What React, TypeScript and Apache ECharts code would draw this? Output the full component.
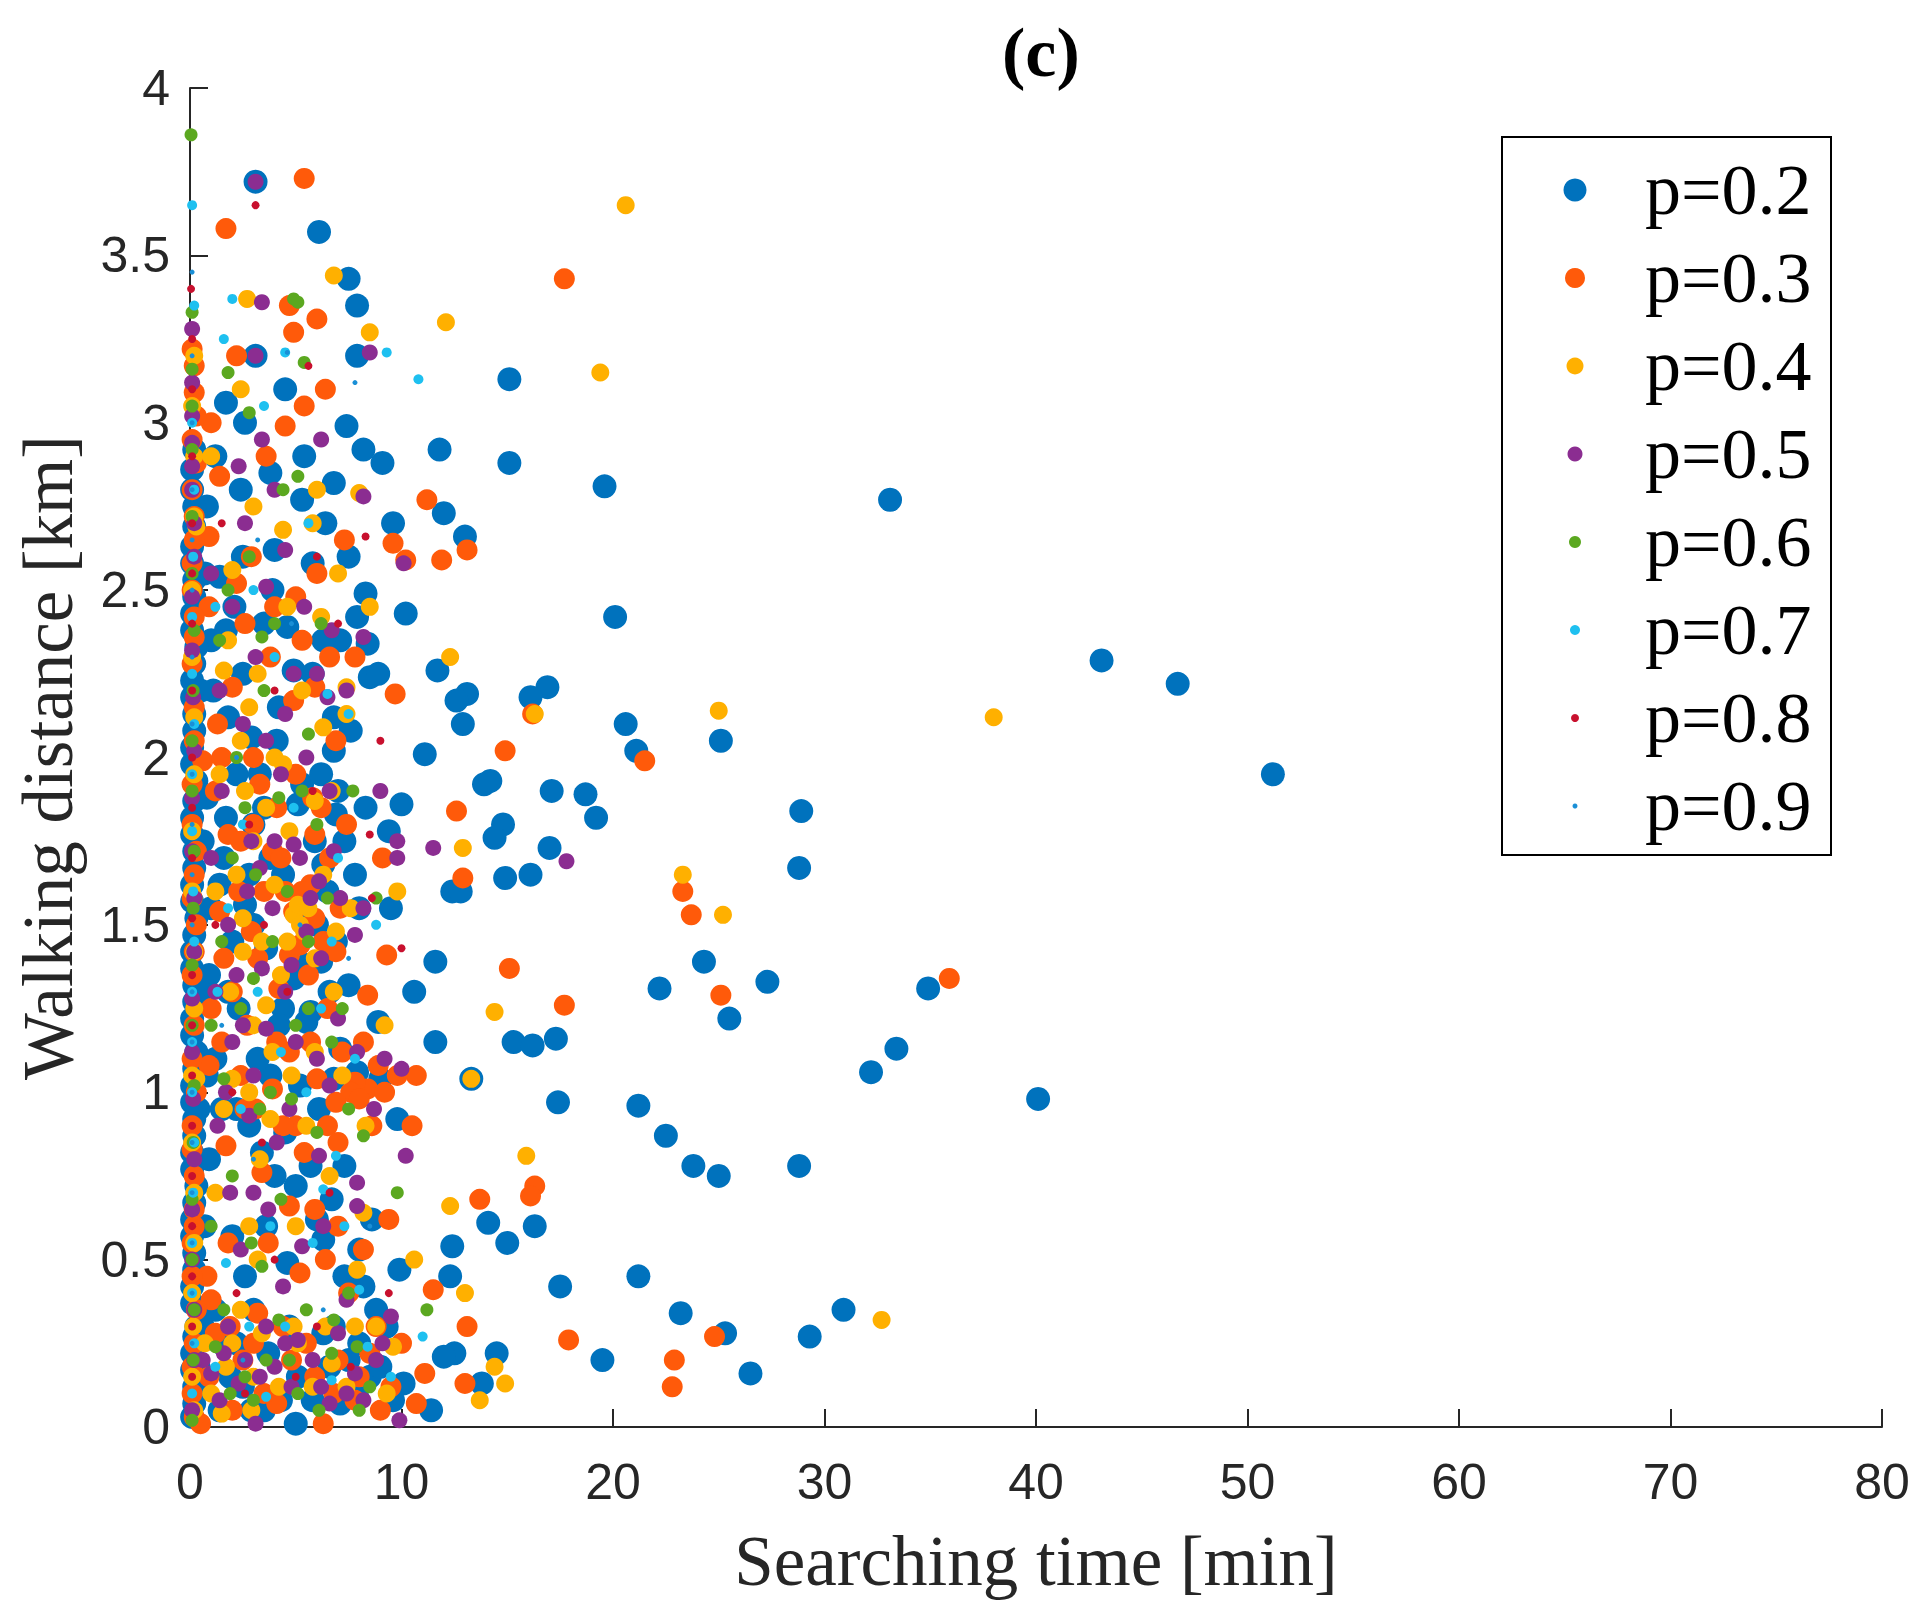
import React, { useEffect, useRef } from "react";
import * as echarts from "echarts";

const seriesNames = ["p=0.2", "p=0.3", "p=0.4", "p=0.5", "p=0.6", "p=0.7", "p=0.8", "p=0.9"];
const seriesColors = ["#0072BD", "#FF5A0A", "#FFB000", "#8B2D91", "#5BA820", "#1EC0F0", "#C8102E", "#1A8FD6"];
const symbolSizes = [24, 21, 18, 16, 13, 10, 8, 5];
const xTicks = { min: 0, max: 80, interval: 10 };
const yTicks = { min: 0, max: 4, interval: 0.5 };

const p02: number[][] = [
  [33.1,2.77],[43.1,2.29],[46.7,2.22],[51.2,1.95],[40.1,0.98],[33.4,1.13],[32.2,1.06],[34.9,1.31],[27.3,1.33],[24.3,1.39],[25.5,1.22],[22.2,1.31],[28.9,1.84],[28.8,1.67],[25.1,2.05],[20.6,2.10],[21.1,2.02],[20.1,2.42],[19.6,2.81],[15.1,2.88],[15.1,3.13],[11.8,2.92],[12.0,2.73],[13.0,2.66],[16.9,2.21],[16.1,2.18],[13.1,2.19],[12.6,2.17],[12.9,2.10],[11.7,2.26],[11.1,2.01],[13.9,1.92],[14.2,1.93],[17.1,1.90],[18.7,1.89],[19.2,1.82],[14.8,1.80],[14.4,1.76],[17.0,1.73],[16.1,1.65],[14.9,1.64],[12.4,1.60],[12.8,1.60],[11.6,1.39],[11.6,1.15],[15.3,1.15],[16.2,1.14],[17.3,1.16],[17.4,0.97],[21.2,0.96],[22.5,0.87],[23.8,0.78],[25.0,0.75],[28.8,0.78],[16.3,0.60],[14.1,0.61],[15.0,0.55],[12.4,0.54],[12.3,0.45],[9.9,0.47],[17.5,0.42],[21.2,0.45],[23.2,0.34],[30.9,0.35],[29.3,0.27],[25.3,0.28],[26.5,0.16],[19.5,0.20],[14.5,0.22],[13.8,0.13],[12.5,0.22],[12.0,0.21],[11.4,0.05],[10.1,0.13],
  [10.2,2.43],[8.3,2.49],[8.4,2.34],[8.5,2.24],[7.9,2.42],[7.1,2.35],[6.8,2.12],[6.8,2.02],[10.0,1.86],[9.4,1.78],[6.9,1.83],[6.3,1.68],[6.5,1.60],[7.4,2.99],[8.2,2.92],[9.1,2.88],[6.4,2.70],[5.4,2.90],[3.8,2.85],[2.4,2.80],[1.7,3.06],[3.1,3.20],[3.1,3.72],[6.1,3.57],[7.5,3.43],[7.9,3.35],[7.9,3.20],[5.3,2.77],[4.0,2.62],[5.8,2.58],[1.4,2.54],[2.1,2.45],[3.5,2.40],[4.6,2.39],[1.7,2.38],[4.9,2.26],[2.9,2.06],[5.3,1.92],[5.1,1.86],[1.7,1.82],[1.6,1.70],[2.6,1.56],[3.6,1.43],[4.9,1.34],[6.2,1.39],[5.7,1.24],[5.5,1.38],[6.8,1.04],[7.9,1.06],[9.0,1.04],[9.8,0.92],[13.3,1.04],[7.1,1.13],[5.5,1.21],[8.9,1.21],[4.5,0.88],[2.8,0.90],[5.0,0.72],[6.0,0.62],[6.3,0.56],[4.6,0.49],[3.6,0.60],[2.0,0.57],[8.2,0.42],[8.0,0.53],[6.3,0.28],[8.0,0.25],[5.1,0.15],[5.0,0.01],[7.1,0.07],[8.5,0.15],[2.9,0.05],[1.9,0.15],[1.4,0.05],[4.3,0.08],[7.9,0.09],[3.3,1.95],[4.1,2.05],[2.3,1.25],[1.2,1.10],[3.0,0.35],[6.6,0.18],[9.3,0.30],[0.9,0.80],[1.1,2.20],[2.5,2.60],[4.4,1.65],[3.8,1.05],[7.3,1.75],
  [1.0,2.35],[1.8,2.12],[2.2,1.95],[0.8,1.88],[1.4,1.62],[2.0,1.45],[0.9,1.35],[3.0,1.80],[3.8,1.70],[4.2,2.15],[5.8,2.25],[6.2,1.95],[7.0,1.90],[7.6,2.08],[6.0,1.50],[6.6,1.30],[4.4,1.25],[3.2,1.10],[2.2,0.95],[5.2,1.02],[6.1,0.95],[7.3,0.78],[8.6,0.62],[4.0,0.75],[2.6,0.45],[1.2,0.35],[3.7,0.22],[2.2,0.25],[5.8,0.08],[9.6,0.08],[8.8,0.35],[7.3,0.45],[0.8,2.75],[2.6,3.00],[4.5,3.10],[6.8,2.82],[9.6,2.70],[8.9,2.25],[9.5,1.55],[10.6,1.30],[8.0,1.55],[7.5,1.32],
  [0.6,0.30],[1.5,0.25],[2.5,0.12],[3.5,0.05],[4.7,0.30],[6.8,0.30],[7.5,0.20],[9.0,0.18],[1.0,1.55],[2.8,1.65],[3.5,1.85],[5.9,1.75],[7.8,1.65],[1.8,1.30],[3.0,1.50],[5.2,1.55],[6.9,1.45],[1.5,0.95],[3.4,0.82],[5.7,0.78],[6.7,0.68],[0.8,1.05],[2.5,2.25],[3.9,2.50],[6.3,2.35],[7.5,2.60],[1.2,2.90],[4.2,1.20],[8.3,1.85],
  [0.1,0.03],[0.2,0.12],[0.1,0.22],[0.3,0.30],[0.1,0.42],[0.2,0.52],[0.1,0.62],[0.3,0.72],[0.1,0.82],[0.2,0.92],[0.1,1.02],[0.3,1.12],[0.1,1.22],[0.2,1.32],[0.1,1.42],[0.3,1.52],[0.1,1.62],[0.2,1.72],[0.1,1.82],[0.3,1.93],[0.1,2.03],[0.2,2.13],[0.1,2.23],[0.3,2.33],[0.1,2.43],[0.2,2.53],[0.1,2.63],[0.2,2.75],[0.1,2.86],[0.4,0.18],[0.5,1.30],[0.5,2.20],[0.4,0.95],
  [0.2,0.07],[0.1,0.17],[0.2,0.27],[0.1,0.37],[0.2,0.47],[0.1,0.57],[0.2,0.67],[0.1,0.77],[0.2,0.87],[0.1,0.97],[0.2,1.07],[0.1,1.17],[0.2,1.27],[0.1,1.37],[0.2,1.47],[0.1,1.57],[0.2,1.67],[0.1,1.77],[0.2,1.87],[0.1,1.98],[0.2,2.08],[0.1,2.18],[0.2,2.28],[0.1,2.38],[0.2,2.48],[0.1,2.58],[0.2,2.69],[0.1,2.80],[0.2,2.92],[0.7,0.60],[0.6,1.75],[0.7,2.55]
];

const p03: number[][] = [
  [5.4,3.73],[1.7,3.58],[17.7,3.43],[4.9,3.27],[6.0,3.31],[4.7,3.35],[5.4,3.05],[4.5,2.99],[11.2,2.77],[9.6,2.64],[10.2,2.59],[13.1,2.62],[11.9,2.59],[0.9,2.66],[1.4,2.84],[5.0,2.48],[5.3,2.35],[5.9,2.21],[4.9,2.17],[2.0,2.21],[9.7,2.19],[16.2,2.13],[14.9,2.02],[21.5,1.99],[12.6,1.84],[9.1,1.70],[12.9,1.64],[23.3,1.60],[23.7,1.53],[25.1,1.29],[35.9,1.34],[15.1,1.37],[9.3,1.41],[8.4,1.29],[17.7,1.26],[10.7,1.05],[9.8,1.05],[8.4,1.01],[7.8,1.03],[16.3,0.72],[16.1,0.69],[13.7,0.68],[8.2,0.53],[11.5,0.41],[13.1,0.30],[17.9,0.26],[24.8,0.27],[22.9,0.20],[22.8,0.12],[11.1,0.16],[10.7,0.07],[13.0,0.13],[6.3,0.01],[4.1,0.07],[0.5,0.01],[1.0,0.38],[3.2,0.34],[5.2,0.46],[6.4,0.50],[4.7,0.66],[3.4,0.76],[1.7,0.84],[6.5,0.90],[6.0,1.04],[4.7,1.12],[3.9,1.01],[2.4,1.05],[6.5,1.25],[4.2,1.31],[4.7,1.41],[5.2,1.44],[5.9,1.52],[4.9,1.54],[2.9,1.48],[1.4,1.54],[3.9,1.72],[5.9,1.77],[6.2,1.85],[1.8,1.77],[3.3,1.92],[0.6,1.99],[0.9,1.08],[0.3,1.50],[0.2,3.09],[0.2,3.17],[0.2,2.36],[0.2,0.60],
  [7.0,0.20],[8.5,0.22],[9.5,0.12],[2.5,0.20],[5.5,0.25],[1.2,0.28],[7.6,1.00],[8.0,0.98],[4.5,1.60],[5.7,1.62],[3.0,2.00],[2.2,2.52],[6.0,2.55],[2.7,1.20],[0.8,0.45],[1.5,2.00],[5.0,0.90],[7.0,0.60],
  [1.2,1.90],[2.4,1.75],[3.5,1.60],[4.1,1.85],[5.0,1.95],[6.6,1.70],[7.1,1.55],[6.9,1.42],[5.6,1.35],[3.2,1.40],[2.0,1.30],[1.0,1.25],[1.5,1.15],[3.1,0.95],[4.4,0.90],[5.4,0.82],[6.9,0.97],[8.9,1.08],[7.2,1.12],[8.2,1.15],[10.5,0.90],[9.4,0.62],[7.5,0.40],[4.8,0.20],[3.5,0.10],[2.0,0.05],[6.8,0.10],[9.0,0.05],[8.0,0.15],[1.8,0.55],[0.9,2.45],[3.8,2.30],[2.6,2.40],[6.6,2.30],[7.3,2.65],[3.6,2.90],[6.4,3.10],[2.2,3.20],[1.0,3.00],[5.8,1.88],
  [0.9,0.15],[1.9,0.30],[3.0,0.25],[4.4,0.30],[5.9,0.15],[7.8,0.08],[8.8,0.30],[10.0,0.25],[2.3,1.60],[3.0,1.80],[4.3,1.70],[5.3,1.60],[6.3,1.45],[7.4,1.80],[1.6,1.40],[2.6,0.95],[4.1,1.15],[5.7,1.15],[7.0,0.85],[8.6,0.90],[9.2,1.00],[3.7,0.55],[5.9,0.65],[1.3,2.10],[4.0,2.45],[6.9,2.05],[2.9,2.60],[7.8,2.30],
  [0.1,0.10],[0.2,0.25],[0.1,0.45],[0.2,0.75],[0.1,0.90],[0.2,1.20],[0.1,1.35],[0.2,1.65],[0.1,1.80],[0.2,2.05],[0.1,2.50],[0.2,2.65],[0.1,2.80],[0.1,2.95],[0.3,3.02],
  [0.2,0.03],[0.1,0.18],[0.3,0.35],[0.1,0.55],[0.2,0.65],[0.1,0.83],[0.3,1.00],[0.1,1.10],[0.2,1.42],[0.1,1.58],[0.3,1.72],[0.1,1.92],[0.2,2.15],[0.1,2.28],[0.2,2.42],[0.1,2.58],[0.2,2.72],[0.3,2.88],[0.1,3.22]
];

const p04: number[][] = [
  [20.6,3.65],[12.1,3.30],[19.4,3.15],[6.8,3.44],[8.5,3.27],[2.7,3.37],[2.4,3.10],[4.4,2.68],[6.0,2.80],[8.0,2.79],[1.6,2.26],[12.3,2.30],[16.3,2.13],[25.0,2.14],[38.0,2.12],[23.3,1.65],[25.2,1.53],[12.9,1.73],[14.4,1.24],[13.3,1.04],[15.9,0.81],[12.3,0.66],[13.0,0.40],[32.7,0.32],[14.4,0.18],[14.9,0.13],[13.7,0.08],[9.6,0.24],[7.9,0.47],[8.2,0.64],[7.4,2.21],[7.4,2.13],[6.3,2.09],[5.9,1.87],[4.9,1.53],[5.1,1.56],[2.5,1.42],[2.5,1.52],[3.6,1.26],[2.0,1.04],[3.8,0.92],[2.8,0.60],[3.2,0.50],[2.4,0.35],[1.5,0.04],[4.9,0.30],[5.1,0.25],[6.7,0.19],[3.6,1.85],[3.2,2.25],[0.3,2.69],[0.2,3.20],[0.3,1.04],[2.0,2.56],
  [5.2,1.50],[5.4,1.48],[4.6,1.45],[6.8,1.30],[1.2,0.70],[9.2,1.20],[4.0,2.00],[5.8,2.70],[3.0,1.75],[1.0,2.90],[7.8,0.30],[3.0,0.15],
  [1.4,1.95],[2.2,1.65],[3.4,1.45],[4.0,1.62],[4.7,1.78],[5.6,1.55],[6.3,1.65],[6.9,1.48],[3.9,1.12],[2.8,1.00],[1.6,0.95],[4.8,1.05],[5.9,1.12],[7.2,1.05],[8.3,0.90],[2.0,0.25],[3.4,0.28],[5.8,0.12],[7.4,0.12],[8.8,0.30],[1.0,0.10],[6.2,2.42],[4.6,2.45],[2.8,2.15],[7.0,2.55],[3.0,2.75],[1.8,2.35],[9.8,1.60],[10.6,0.50],[5.0,0.60],
  [0.7,0.25],[1.7,0.18],[2.9,0.05],[4.2,0.12],[6.4,0.30],[9.3,0.10],[1.9,1.30],[3.0,1.20],[4.3,1.35],[5.9,1.40],[7.6,1.55],[6.7,1.90],[4.4,1.98],[2.6,1.90],[1.2,1.60],[3.3,0.80],[5.5,0.90],[6.6,0.75],[2.4,2.05],[5.3,2.20],[8.5,2.45],
  [0.1,0.15],[0.2,0.55],[0.1,0.85],[0.2,1.25],[0.1,1.60],[0.2,1.95],[0.1,2.30],[0.2,2.90],[0.1,3.05],[0.15,0.30],
  [0.2,0.05],[0.1,0.40],[0.2,0.70],[0.1,1.05],[0.2,1.42],[0.1,1.78],[0.2,2.12],[0.1,2.50],[0.2,2.72]
];

const p05: number[][] = [
  [3.1,3.72],[3.4,3.36],[3.1,3.20],[8.5,3.21],[2.3,2.87],[4.0,2.80],[8.2,2.78],[10.1,2.58],[8.2,2.36],[6.7,2.38],[6.5,2.18],[4.9,2.25],[3.6,2.51],[3.1,2.30],[4.5,2.13],[11.5,1.73],[17.8,1.69],[9.8,1.70],[9.8,1.75],[6.1,1.63],[4.9,1.74],[3.3,1.67],[7.8,1.47],[5.5,1.48],[3.4,1.37],[4.5,1.30],[3.6,1.19],[2.0,1.15],[7.9,1.12],[10.0,1.07],[2.8,0.93],[4.7,0.95],[6.1,0.81],[10.2,0.81],[7.9,0.73],[7.9,0.66],[5.3,0.54],[2.4,0.53],[4.4,0.42],[7.4,0.38],[9.5,0.33],[5.1,0.26],[7.8,0.16],[6.6,0.07],[9.9,0.02],[3.1,0.01],[2.3,0.13],[1.0,0.16],[0.1,2.94],[0.1,3.02],[0.1,2.87],[0.1,3.28],
  [1.5,1.90],[2.5,2.10],[5.5,2.00],[1.3,0.90],[3.0,0.70],[8.8,0.20],[4.0,0.18],[1.8,0.30],[6.0,1.10],[2.7,1.60],
  [1.0,1.70],[2.2,1.35],[3.9,1.55],[4.3,1.95],[5.2,1.70],[6.6,1.90],[7.1,1.58],[6.2,1.40],[5.0,1.15],[3.0,1.05],[1.7,1.00],[4.1,0.85],[6.6,1.02],[8.7,0.95],[9.2,1.10],[2.6,0.20],[3.6,0.30],[4.8,0.12],[5.8,0.20],[7.0,0.28],[8.2,0.08],[1.4,0.08],[2.0,2.45],[5.4,2.45],[7.4,2.20],[2.6,2.70],[4.5,2.62],[6.2,2.95],[1.4,2.20],[9.0,1.90],
  [0.6,0.20],[1.6,0.22],[3.3,0.15],[4.5,0.25],[6.2,0.12],[7.4,0.10],[9.1,0.25],[1.8,1.50],[2.9,1.75],[4.0,1.75],[5.7,1.58],[6.8,1.72],[8.2,1.55],[1.2,1.30],[2.5,1.20],[4.8,1.38],[7.0,1.22],[3.7,0.65],[6.3,0.60],[1.9,0.70],[3.6,2.05],[6.0,2.25],[1.0,2.55],[3.4,2.95],
  [0.1,0.05],[0.2,0.35],[0.1,0.65],[0.15,0.98],[0.1,1.28],[0.2,1.58],[0.1,1.88],[0.15,2.18],[0.1,2.48],[0.2,2.70],[0.1,3.12],
  [0.2,0.20],[0.1,0.50],[0.2,0.80],[0.1,1.12],[0.2,1.42],[0.1,1.72],[0.2,2.02],[0.1,2.32],[0.2,2.60],[0.1,2.80]
];

const p06: number[][] = [
  [0.05,3.86],[1.8,3.15],[4.9,3.37],[5.1,3.36],[5.4,3.18],[2.8,3.03],[5.1,2.84],[1.8,2.50],[3.4,2.36],[3.5,2.20],[5.6,2.07],[4.2,1.88],[8.8,1.58],[8.2,0.87],[9.8,0.70],[11.2,0.35],[7.9,0.24],[1.2,0.24],[2.6,0.15],[4.7,0.20],[6.7,0.22],[3.4,0.48],[4.3,0.68],[1.6,1.04],[3.0,1.34],[5.6,1.45],[6.7,1.15],[7.5,0.95],[2.0,1.70],[6.1,0.05],
  [2.2,2.00],[3.8,1.00],[6.0,1.80],[1.0,0.60],[8.5,0.12],[5.0,1.20],
  [1.5,1.45],[2.6,1.85],[4.6,1.60],[6.5,1.58],[7.2,1.25],[3.3,0.95],[4.8,0.98],[6.0,0.88],[1.0,1.20],[2.0,0.75],[5.5,0.35],[7.5,0.40],[3.0,0.08],[4.2,0.32],[8.0,0.05],[1.6,0.35],[2.8,2.60],[6.2,2.40],[4.4,2.80],[7.7,1.90],
  [1.9,0.10],[3.6,0.20],[5.1,0.10],[6.8,0.32],[2.4,1.25],[3.9,1.45],[5.6,1.25],[3.1,1.65],[5.3,1.90],[1.4,2.35],[4.0,2.40],[2.9,0.55],
  [0.1,3.33],[0.1,3.16],[0.1,2.92],[0.1,2.55],[0.15,2.20],[0.1,1.90],[0.15,1.55],[0.1,1.20],[0.15,0.85],[0.1,0.50],[0.15,0.20],[0.1,0.02],
  [0.2,0.35],[0.1,0.68],[0.2,1.02],[0.1,1.38],[0.2,1.72],[0.1,2.05],[0.2,2.38],[0.1,2.72],[0.1,3.05]
];

const p07: number[][] = [
  [0.1,3.65],[0.2,3.35],[2.0,3.37],[1.6,3.25],[4.5,3.21],[9.3,3.21],[10.8,3.13],[3.5,3.05],[1.2,2.45],[6.5,2.19],[7.5,2.13],[6.7,1.45],[4.3,1.12],[6.9,0.81],[6.3,0.71],[1.7,0.49],[3.8,0.60],[8.0,0.41],[11.0,0.27],[6.7,0.14],[3.6,0.09],[8.4,0.24],
  [2.5,1.80],[4.0,2.30],[5.5,1.00],[1.3,1.30],[7.0,1.70],[2.8,0.30],
  [1.8,1.55],[3.2,1.30],[4.9,1.85],[6.2,1.25],[2.4,0.95],[5.8,0.55],[7.3,0.60],[4.5,0.30],[1.2,0.18],[9.5,0.15],[3.0,2.50],[5.6,2.70],[7.8,1.10],[8.8,1.50],
  [0.1,3.00],[0.15,2.60],[0.1,2.25],[0.1,1.95],[0.15,1.60],[0.1,1.30],[0.1,1.00],[0.15,0.70],[0.1,0.40],[0.1,0.10],
  [0.2,0.25],[0.1,0.55],[0.2,0.85],[0.1,1.15],[0.2,1.45],[0.1,1.78],[0.2,2.10],[0.1,2.42],[0.2,2.80]
];

const p08: number[][] = [
  [3.1,3.65],[0.05,3.40],[8.3,2.66],[9.0,2.05],[8.6,1.58],[8.5,1.77],[10.0,1.43],[5.6,3.17],
  [2.0,1.00],[4.0,0.50],[6.0,0.30],[3.5,1.50],[7.0,2.40],[1.5,2.70],[2.6,0.10],
  [1.2,1.50],[2.8,1.80],[4.6,1.30],[5.8,1.90],[3.4,0.85],[6.6,0.70],[2.2,0.40],[5.0,0.15],[7.6,0.18],[9.4,0.40],[4.0,2.20],[6.0,2.60],
  [0.1,3.10],[0.1,2.70],[0.1,2.40],[0.1,2.00],[0.1,1.70],[0.1,1.35],[0.1,1.05],[0.1,0.75],[0.1,0.45],[0.1,0.15],
  [0.1,0.30],[0.1,0.60],[0.1,0.90],[0.1,1.20],[0.1,1.52],[0.1,1.85],[0.1,2.20],[0.1,2.55],[0.1,2.90],[0.1,3.25]
];

const p09: number[][] = [
  [0.1,3.45],[4.6,3.21],[7.8,3.12],[3.2,2.65],[6.3,0.35],[5.2,1.50],[2.2,2.00],
  [1.5,1.20],[3.0,0.80],[4.8,2.40],[7.5,1.40],[2.5,0.20],[8.5,0.60],
  [0.1,3.20],[0.1,2.80],[0.1,2.50],[0.1,2.10],[0.1,1.80],[0.1,1.50],[0.1,1.15],[0.1,0.85],[0.1,0.55],[0.1,0.25],
  [0.1,0.40],[0.1,0.70],[0.1,1.00],[0.1,1.30],[0.1,1.65],[0.1,1.95],[0.1,2.30],[0.1,2.65],[0.1,3.00]
];

const allData = [p02, p03, p04, p05, p06, p07, p08, p09];

export default function App() {
  const ref = useRef<HTMLDivElement>(null);
  useEffect(() => {
    if (!ref.current) return;
    const chart = echarts.init(ref.current, undefined, { renderer: "svg" });
    const axisColor = "#262626";
    const rowY0 = 190;
    const rowGap = 88;
    const iconCx = 1575;
    const legendItemWidth = 130;
    const legendIconSizes = [23, 20, 17, 15, 12, 10, 8, 5];
    const legends = seriesNames.map((name, i) => ({
      data: [name],
      orient: "vertical",
      left: iconCx - legendIconSizes[i] / 2,
      top: rowY0 + rowGap * i - 36,
      padding: 0,
      itemWidth: legendItemWidth,
      itemHeight: legendIconSizes[i],
      icon: "circle",
      selectedMode: false,
      textStyle: {
        fontFamily: "Liberation Serif",
        fontSize: 72,
        lineHeight: 72,
        color: "#000",
      },
    }));
    chart.setOption({
      animation: false,
      backgroundColor: "#ffffff",
      title: {
        text: "(c)",
        left: 997,
        top: 12,
        textStyle: { fontFamily: "Liberation Serif", fontWeight: "bold", fontSize: 70, color: "#000" },
      },
      legend: legends,
      grid: { left: 190, right: 38, top: 88, bottom: 195, containLabel: false },
      xAxis: {
        type: "value",
        min: xTicks.min,
        max: xTicks.max,
        interval: xTicks.interval,
        name: "Searching time [min]",
        nameLocation: "middle",
        nameGap: 98,
        nameTextStyle: { fontFamily: "Liberation Serif", fontSize: 71, color: axisColor },
        axisLine: { show: true, lineStyle: { color: axisColor, width: 2 } },
        axisTick: { show: true, inside: true, length: 18, lineStyle: { color: axisColor, width: 2 } },
        axisLabel: { fontFamily: "Liberation Sans", fontSize: 50, color: axisColor, margin: 30 },
        splitLine: { show: false },
      },
      yAxis: {
        type: "value",
        min: yTicks.min,
        max: yTicks.max,
        interval: yTicks.interval,
        name: "Walking distance [km]",
        nameLocation: "middle",
        nameGap: 107,
        nameTextStyle: { fontFamily: "Liberation Serif", fontSize: 71, color: axisColor },
        axisLine: { show: true, lineStyle: { color: axisColor, width: 2 } },
        axisTick: { show: true, inside: true, length: 18, lineStyle: { color: axisColor, width: 2 } },
        axisLabel: { fontFamily: "Liberation Sans", fontSize: 50, color: axisColor, margin: 20 },
        splitLine: { show: false },
      },
      graphic: [
        {
          type: "rect",
          shape: { x: 1502, y: 137, width: 329, height: 718 },
          style: { fill: "none", stroke: "#000", lineWidth: 2 },
          silent: true,
          z: 10,
        },
      ],
      series: seriesNames.map((name, i) => ({
        name,
        type: "scatter",
        data: allData[i],
        symbol: "circle",
        symbolSize: symbolSizes[i],
        itemStyle: { color: seriesColors[i], opacity: 1 },
        emphasis: { disabled: true },
        z: 2 + i,
      })),
    });
    return () => chart.dispose();
  }, []);
  return (
    <div
      ref={ref}
      style={{ position: "absolute", left: 0, top: 0, width: 1920, height: 1622, background: "#fff" }}
    />
  );
}
